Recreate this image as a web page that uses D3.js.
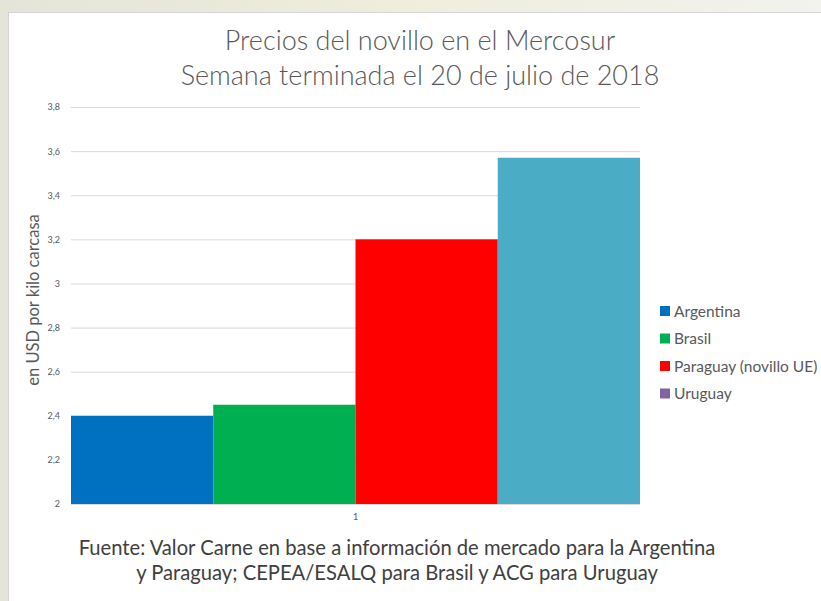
<!DOCTYPE html>
<html>
<head>
<meta charset="utf-8">
<script src="https://cdn.jsdelivr.net/npm/d3@7"></script>
<style>
  html, body { margin: 0; padding: 0; }
  body { width: 821px; height: 601px; overflow: hidden; background: #ecebdf; }
  text { font-family: Lato, "Open Sans", sans-serif; }
</style>
</head>
<body>
<div id="chart"></div>
<script>
const categories = ['1'];
const seriesNames = ['Argentina', 'Brasil', 'Paraguay (novillo UE)', 'Uruguay'];
const seriesValues = [2.40, 2.45, 3.20, 3.57];
const barColors = ['#0070C0', '#00B050', '#FF0000', '#4BACC6'];
const legendColors = ['#0070C0', '#00B050', '#FF0000', '#8064A2'];
const yTicks = [2, 2.2, 2.4, 2.6, 2.8, 3, 3.2, 3.4, 3.6, 3.8];
const titleLines = ['Precios del novillo en el Mercosur', 'Semana terminada el 20 de julio de 2018'];
const sourceLines = ['Fuente: Valor Carne en base a información de mercado para la Argentina',
                     'y Paraguay; CEPEA/ESALQ para Brasil y ACG para Uruguay'];

const W = 821, H = 601;
const plot = { left: 71, right: 640, top: 107, bottom: 504 };

const svg = d3.select('#chart')
    .append('svg')
    .attr('width', W)
    .attr('height', H);

// faded backdrop + white chart card
const grad = svg.append('defs').append('linearGradient')
    .attr('id', 'bg').attr('x1', 0).attr('y1', 0).attr('x2', 1).attr('y2', 0);
grad.append('stop').attr('offset', '0%').attr('stop-color', '#e4e4d8');
grad.append('stop').attr('offset', '50%').attr('stop-color', '#efeedd');
grad.append('stop').attr('offset', '100%').attr('stop-color', '#f2f2ee');
svg.append('rect').attr('width', W).attr('height', H).attr('fill', 'url(#bg)');
svg.append('rect')
    .attr('x', 8.5).attr('y', 12.5)
    .attr('width', W).attr('height', H)
    .attr('fill', '#fff')
    .attr('stroke', '#d4d4d4');

const yScale = d3.scaleLinear()
    .domain([2, 3.8])
    .range([plot.bottom, plot.top]);

const xScale = d3.scaleBand()
    .domain(categories)
    .range([plot.left, plot.right])
    .padding(0);

const xInner = d3.scaleBand()
    .domain(seriesNames)
    .range([0, xScale.bandwidth()])
    .padding(0);

const fmt = d => d3.format('.1f')(d).replace('.0', '').replace('.', ',');

// gridlines
svg.append('g')
    .attr('transform', `translate(${plot.left},0)`)
    .call(d3.axisLeft(yScale).tickValues(yTicks).tickSize(-(plot.right - plot.left)).tickFormat(''))
    .call(g => g.select('.domain').remove())
    .call(g => g.selectAll('line').attr('stroke', '#d9d9d9'));

// y axis labels
svg.append('g')
    .attr('transform', `translate(${plot.left},0)`)
    .call(d3.axisLeft(yScale).tickValues(yTicks).tickSize(0).tickPadding(11).tickFormat(fmt))
    .call(g => g.select('.domain').remove())
    .call(g => g.selectAll('text')
        .attr('fill', '#595959')
        .style('font-size', '9px')
        .style('font-family', 'Lato, sans-serif'));

// bars
svg.append('g')
    .selectAll('rect')
    .data(seriesValues)
    .enter()
    .append('rect')
    .attr('x', (d, i) => xScale(categories[0]) + xInner(seriesNames[i]))
    .attr('y', d => yScale(d))
    .attr('width', xInner.bandwidth())
    .attr('height', d => yScale(2) - yScale(d))
    .attr('fill', (d, i) => barColors[i]);

// x axis label
svg.append('g')
    .attr('transform', `translate(0,${plot.bottom})`)
    .call(d3.axisBottom(xScale).tickSize(0).tickPadding(10))
    .call(g => g.select('.domain').remove())
    .call(g => g.selectAll('text')
        .attr('fill', '#595959')
        .style('font-size', '9px')
        .style('font-family', 'Lato, sans-serif'));

// y axis title
svg.append('text')
    .attr('transform', 'translate(39,300) rotate(-90)')
    .attr('text-anchor', 'middle')
    .attr('fill', '#595959')
    .style('font-size', '16.5px')
    .text('en USD por kilo carcasa');

// title
svg.selectAll('.title')
    .data(titleLines)
    .enter()
    .append('text')
    .attr('class', 'title')
    .attr('x', 420)
    .attr('y', (d, i) => 50 + i * 35)
    .attr('text-anchor', 'middle')
    .attr('fill', '#595959')
    .style('font-size', '27px')
    .style('font-weight', 300)
    .text(d => d);

// legend
const legend = svg.append('g')
    .selectAll('g')
    .data(seriesNames)
    .enter()
    .append('g')
    .attr('transform', (d, i) => `translate(660,${311 + i * 27.5})`);
legend.append('rect')
    .attr('x', 0).attr('y', -5)
    .attr('width', 10).attr('height', 10)
    .attr('fill', (d, i) => legendColors[i]);
legend.append('text')
    .attr('x', 14).attr('y', 5.5)
    .attr('fill', '#595959')
    .style('font-size', '15.5px')
    .text(d => d);

// source note
svg.selectAll('.source')
    .data(sourceLines)
    .enter()
    .append('text')
    .attr('class', 'source')
    .attr('x', 397)
    .attr('y', (d, i) => 555 + i * 25)
    .attr('text-anchor', 'middle')
    .attr('fill', '#404040')
    .style('font-size', '20.2px')
    .text(d => d);
</script>
</body>
</html>
